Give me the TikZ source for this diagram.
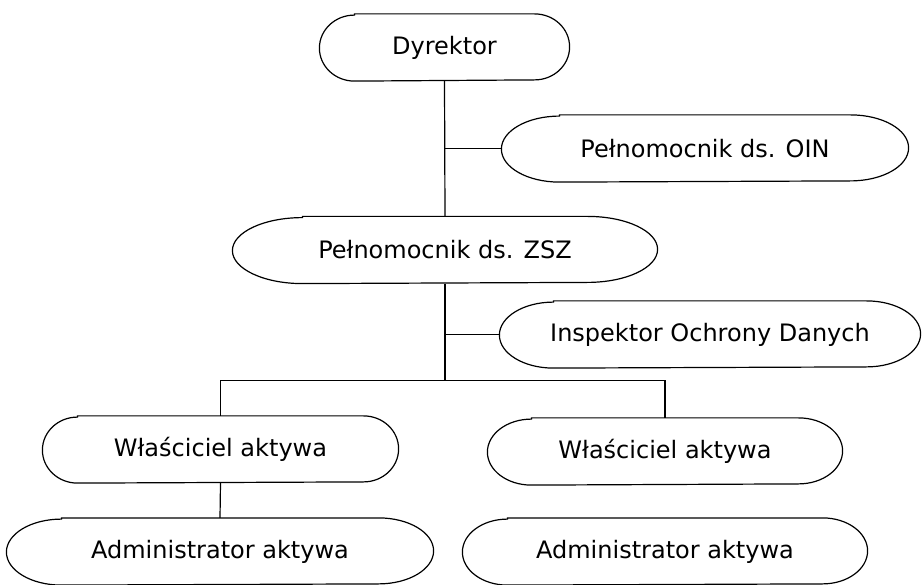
\documentclass[tikz,border=0pt]{standalone}
\usepackage{fontspec}
\setmainfont{DejaVu Sans}
\usetikzlibrary{calc}
% outline of a unit: straight top and bottom, elliptic ends
\newcommand{\capsule}[2]{%
  \draw ([xshift=#2pt]#1.north west) -- ([xshift=-#2pt]#1.north east)
    arc[start angle=90, end angle=-90, x radius=#2pt, y radius=33pt]
    -- ([xshift=#2pt]#1.south west)
    arc[start angle=270, end angle=90, x radius=#2pt, y radius=33pt] -- cycle;}
\tikzset{orgunit/.style={minimum height=66pt, inner sep=0pt, font=\fontsize{24}{28}\selectfont}}

\begin{document}
\begin{tikzpicture}[x=1pt, y=1pt, line width=1.2pt]
  \useasboundingbox (0,0) rectangle (922,-585);
  \node[orgunit, minimum width=249pt] (dyr) at (444.5,-47.5) {Dyrektor};
  \node[orgunit, minimum width=406pt] (oin) at (705,-148.5) {Pełnomocnik ds. OIN};
  \node[orgunit, minimum width=424pt] (zsz) at (445,-250) {Pełnomocnik ds. ZSZ};
  \node[orgunit, minimum width=420pt] (iod) at (710,-334.5) {Inspektor Ochrony Danych};
  \node[orgunit, minimum width=355pt] (wl1) at (220.5,-449.5) {Właściciel aktywa};
  \node[orgunit, minimum width=354pt] (wl2) at (665,-451.5) {Właściciel aktywa};
  \node[orgunit, minimum width=426pt] (adm1) at (220,-551.5) {Administrator aktywa};
  \node[orgunit, minimum width=404pt] (adm2) at (665,-551.5) {Administrator aktywa};
  \capsule{dyr}{35}
  \capsule{oin}{58}
  \capsule{zsz}{70}
  \capsule{iod}{54}
  \capsule{wl1}{35}
  \capsule{wl2}{44}
  \capsule{adm1}{55}
  \capsule{adm2}{45}
  \coordinate (j1) at (dyr.south |- oin.west);
  \coordinate (j2) at (zsz.south |- iod.west);
  \coordinate (j3) at ($(zsz.south)+(0,-97)$);
  \draw (dyr.south) -- (zsz.north);
  \draw (j1) -- (oin.west);
  \draw (zsz.south) -- (j3);
  \draw (j2) -- (iod.west);
  \draw (wl1.north) |- (j3) -| (wl2.north);
  \draw (wl1.south) -- (adm1.north);
\end{tikzpicture}
\end{document}
